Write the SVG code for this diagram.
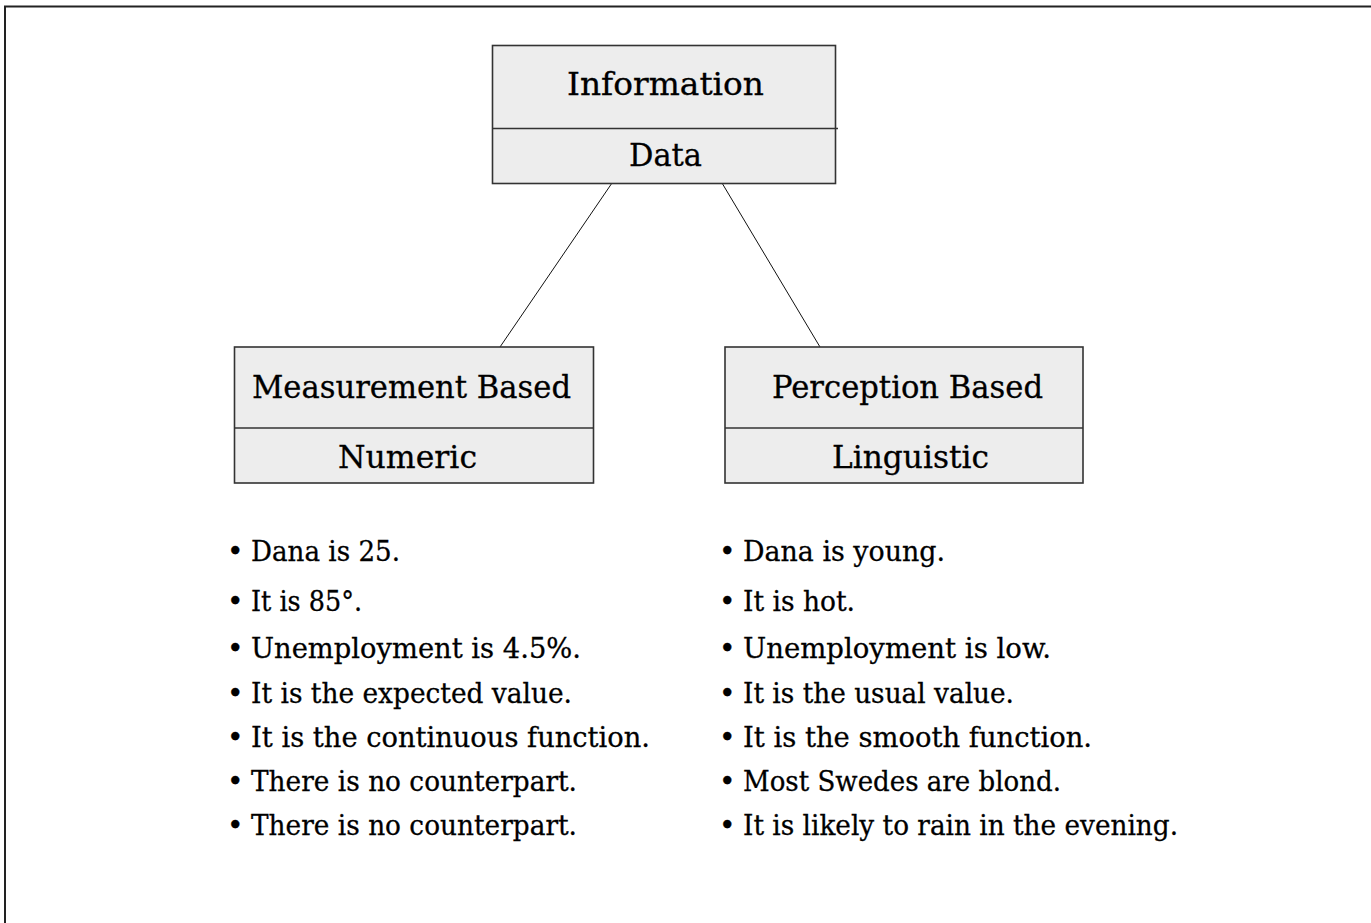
<svg xmlns="http://www.w3.org/2000/svg" width="1371" height="923" viewBox="0 0 1371 923">
<style>
.frame{fill:none;stroke:#222;stroke-width:2}
.box{fill:#ededed;stroke:#333;stroke-width:1.6}
.div{stroke:#333;stroke-width:1.6}
.conn{stroke:#111;stroke-width:1;fill:none}
.h{font-family:"DejaVu Serif","Liberation Serif",serif;font-size:32px;fill:#000;stroke:#000;stroke-width:0.3}
.b{font-family:"DejaVu Serif","Liberation Serif",serif;font-size:28px;fill:#000;stroke:#000;stroke-width:0.3}
</style>
<rect x="0" y="0" width="1371" height="923" fill="#fff"/>
<rect class="frame" x="5" y="6.5" width="1400" height="1000"/>
<g id="connectors">
<line class="conn" x1="612" y1="183" x2="500" y2="347"/>
<line class="conn" x1="722" y1="183" x2="820" y2="347"/>
</g>
<g id="node-information">
<rect class="box" x="492.5" y="45.5" width="343" height="138"/>
<line class="div" x1="492.5" y1="128.5" x2="838" y2="128.5"/>
<text class="h" x="567" y="95" textLength="197" lengthAdjust="spacingAndGlyphs">Information</text>
<text class="h" x="629" y="166" textLength="73" lengthAdjust="spacingAndGlyphs">Data</text>
</g>
<g id="node-measurement">
<rect class="box" x="234.5" y="347" width="359" height="136"/>
<line class="div" x1="234.5" y1="428" x2="593.5" y2="428"/>
<text class="h" x="252" y="398" textLength="319" lengthAdjust="spacingAndGlyphs">Measurement Based</text>
<text class="h" x="338" y="468" textLength="139" lengthAdjust="spacingAndGlyphs">Numeric</text>
</g>
<g id="node-perception">
<rect class="box" x="725" y="347" width="358" height="136"/>
<line class="div" x1="725" y1="428" x2="1083" y2="428"/>
<text class="h" x="772" y="398" textLength="271" lengthAdjust="spacingAndGlyphs">Perception Based</text>
<text class="h" x="832" y="468" textLength="157" lengthAdjust="spacingAndGlyphs">Linguistic</text>
</g>
<g id="list-numeric">
<text class="b" x="227" y="561">•</text>
<text class="b" x="251" y="561" textLength="149" lengthAdjust="spacingAndGlyphs">Dana is 25.</text>
<text class="b" x="227" y="611">•</text>
<text class="b" x="251" y="611" textLength="111" lengthAdjust="spacingAndGlyphs">It is 85°.</text>
<text class="b" x="227" y="658">•</text>
<text class="b" x="251" y="658" textLength="330" lengthAdjust="spacingAndGlyphs">Unemployment is 4.5%.</text>
<text class="b" x="227" y="703">•</text>
<text class="b" x="251" y="703" textLength="321" lengthAdjust="spacingAndGlyphs">It is the expected value.</text>
<text class="b" x="227" y="747">•</text>
<text class="b" x="251" y="747" textLength="399" lengthAdjust="spacingAndGlyphs">It is the continuous function.</text>
<text class="b" x="227" y="791">•</text>
<text class="b" x="251" y="791" textLength="326" lengthAdjust="spacingAndGlyphs">There is no counterpart.</text>
<text class="b" x="227" y="835">•</text>
<text class="b" x="251" y="835" textLength="326" lengthAdjust="spacingAndGlyphs">There is no counterpart.</text>
</g>
<g id="list-linguistic">
<text class="b" x="719" y="561">•</text>
<text class="b" x="743" y="561" textLength="202" lengthAdjust="spacingAndGlyphs">Dana is young.</text>
<text class="b" x="719" y="611">•</text>
<text class="b" x="743" y="611" textLength="112" lengthAdjust="spacingAndGlyphs">It is hot.</text>
<text class="b" x="719" y="658">•</text>
<text class="b" x="743" y="658" textLength="308" lengthAdjust="spacingAndGlyphs">Unemployment is low.</text>
<text class="b" x="719" y="703">•</text>
<text class="b" x="743" y="703" textLength="271" lengthAdjust="spacingAndGlyphs">It is the usual value.</text>
<text class="b" x="719" y="747">•</text>
<text class="b" x="743" y="747" textLength="349" lengthAdjust="spacingAndGlyphs">It is the smooth function.</text>
<text class="b" x="719" y="791">•</text>
<text class="b" x="743" y="791" textLength="318" lengthAdjust="spacingAndGlyphs">Most Swedes are blond.</text>
<text class="b" x="719" y="835">•</text>
<text class="b" x="743" y="835" textLength="435" lengthAdjust="spacingAndGlyphs">It is likely to rain in the evening.</text>
</g>
</svg>
